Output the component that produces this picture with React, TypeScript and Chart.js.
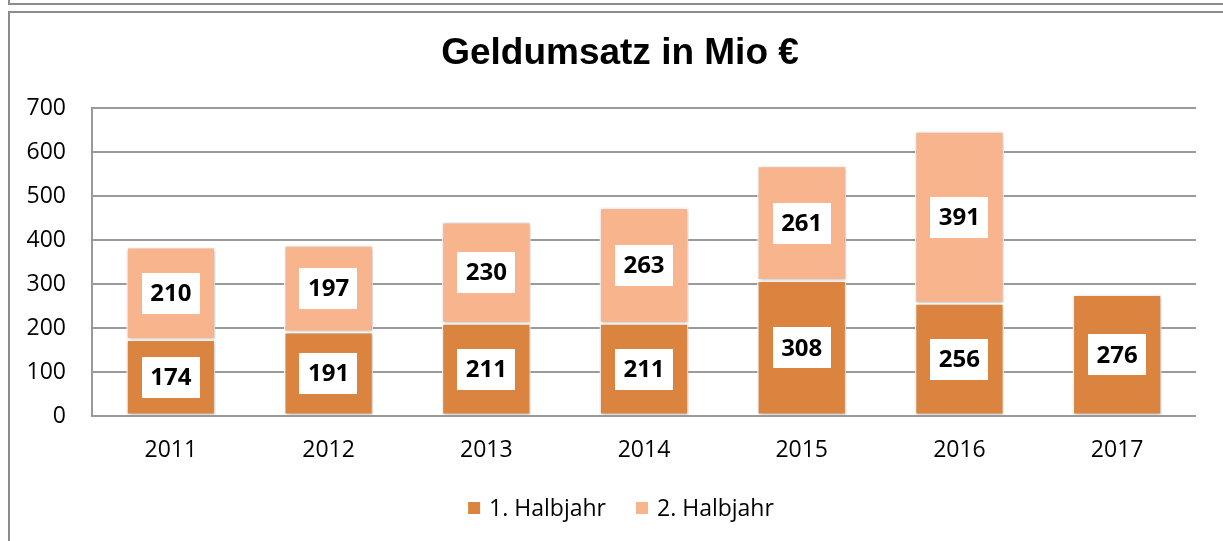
import React, { useEffect, useRef } from "react";
import { Chart, registerables } from "chart.js";
Chart.register(...registerables);

const years = ["2011", "2012", "2013", "2014", "2015", "2016", "2017"];
const firstHalf = [174, 191, 211, 211, 308, 256, 276];
const secondHalf: (number | null)[] = [210, 197, 230, 263, 261, 391, null];
const seriesNames = ["1. Halbjahr", "2. Halbjahr"];
const seriesColors = ["#DA843F", "#F8B48C"];
const titleText = "Geldumsatz in Mio €";
const yMax = 700;
const yStep = 100;

const W = 1223;
const H = 541;
const FONT = "'Open Sans', 'Noto Sans', sans-serif";
const GRID = "#9a9a9a";

const framePlugin = {
  id: "frame",
  beforeDraw(chart: any) {
    const ctx = chart.ctx;
    ctx.save();
    ctx.fillStyle = "#fff";
    ctx.fillRect(0, 0, W, H);
    ctx.strokeStyle = "#8c8c8c";
    ctx.lineWidth = 2;
    ctx.beginPath();
    ctx.moveTo(9, 0);
    ctx.lineTo(9, 4);
    ctx.lineTo(W, 4);
    ctx.moveTo(W, 12);
    ctx.lineTo(9, 12);
    ctx.lineTo(9, H);
    ctx.stroke();
    // title
    ctx.fillStyle = "#000";
    ctx.font = "bold 37px 'Liberation Sans', Arial, sans-serif";
    ctx.textAlign = "center";
    ctx.textBaseline = "alphabetic";
    ctx.fillText(titleText, 620, 64);
    // legend
    ctx.font = `23px ${FONT}`;
    ctx.textBaseline = "middle";
    const sq = 12, gap = 9, spacing = 30;
    const widths = seriesNames.map((n) => ctx.measureText(n).width);
    const total = widths.reduce((a, w) => a + sq + gap + w, 0) + spacing;
    let x = 621 - total / 2;
    const ly = 508;
    ctx.textAlign = "left";
    seriesNames.forEach((n, i) => {
      ctx.fillStyle = seriesColors[i];
      ctx.fillRect(x, ly - sq / 2, sq, sq);
      x += sq + gap;
      ctx.fillStyle = "#000";
      ctx.fillText(n, x, ly + 1);
      x += widths[i] + spacing;
    });
    ctx.restore();
  },
  beforeDatasetDraw(chart: any) {
    const ctx = chart.ctx;
    ctx.save();
    ctx.shadowColor = "rgba(0,0,0,0.25)";
    ctx.shadowBlur = 4;
    ctx.shadowOffsetX = 1;
    ctx.shadowOffsetY = 1;
  },
  afterDatasetDraw(chart: any) {
    chart.ctx.restore();
  },
  afterDatasetsDraw(chart: any) {
    const ctx = chart.ctx;
    ctx.save();
    ctx.font = `bold 24px ${FONT}`;
    ctx.textAlign = "center";
    ctx.textBaseline = "middle";
    chart.data.datasets.forEach((ds: any, di: number) => {
      const meta = chart.getDatasetMeta(di);
      meta.data.forEach((el: any, i: number) => {
        const v = ds.data[i];
        if (v === null || v === undefined) return;
        const cx = el.x;
        const cy = (el.y + el.base) / 2;
        const label = String(v);
        const tw = ctx.measureText(label).width;
        const bw = tw + 17;
        const bh = 41;
        ctx.fillStyle = "#fff";
        ctx.fillRect(Math.round(cx - bw / 2), Math.round(cy - bh / 2), Math.round(bw), bh);
        ctx.fillStyle = "#000";
        ctx.fillText(label, cx, cy + 1);
      });
    });
    ctx.restore();
  },
};

export default function App() {
  const ref = useRef<HTMLCanvasElement | null>(null);
  useEffect(() => {
    if (!ref.current) return;
    const chart = new Chart(ref.current, {
      type: "bar",
      data: {
        labels: years,
        datasets: [
          {
            label: seriesNames[0],
            data: firstHalf,
            backgroundColor: seriesColors[0],
            borderColor: "#ffffff",
            borderWidth: 1.5,
            borderSkipped: false,
            barPercentage: 0.565,
            categoryPercentage: 1,
          },
          {
            label: seriesNames[1],
            data: secondHalf,
            backgroundColor: seriesColors[1],
            borderColor: "#ffffff",
            borderWidth: 1.5,
            borderSkipped: false,
            barPercentage: 0.565,
            categoryPercentage: 1,
          },
        ],
      },
      options: {
        animation: false,
        responsive: false,
        devicePixelRatio: 1,
        layout: { padding: { top: 108, left: 0, right: W - 1196, bottom: 0 } },
        plugins: {
          legend: { display: false },
          title: { display: false },
          tooltip: { enabled: false },
        },
        scales: {
          x: {
            stacked: true,
            grid: { display: false, drawTicks: false },
            border: { display: false },
            ticks: {
              color: "#000",
              font: { family: FONT, size: 23 },
              padding: 21,
            },
            afterFit(scale: any) {
              scale.height = H - 416;
            },
          },
          y: {
            stacked: true,
            min: 0,
            max: yMax,
            grid: { color: GRID, lineWidth: 2, drawTicks: false },
            border: { display: true, color: GRID, width: 2 },
            ticks: {
              stepSize: yStep,
              color: "#000",
              font: { family: FONT, size: 23 },
              padding: 26,
            },
            afterFit(scale: any) {
              scale.width = 92;
            },
          },
        },
      },
      plugins: [framePlugin],
    });
    return () => chart.destroy();
  }, []);
  return (
    <div style={{ position: "absolute", left: 0, top: 0, width: W, height: H }}>
      <canvas ref={ref} width={W} height={H} style={{ display: "block" }} />
    </div>
  );
}
